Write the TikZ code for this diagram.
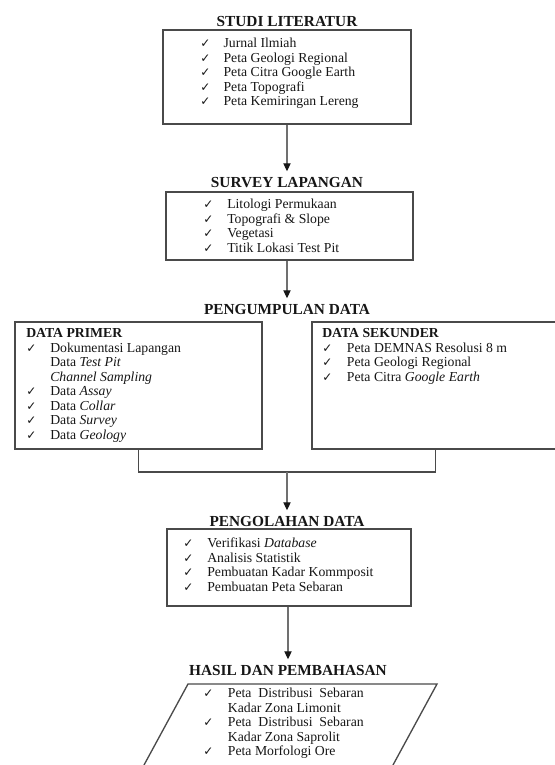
\documentclass[tikz,border=0pt]{standalone}
\usepackage{fontspec}
\setmainfont{Liberation Serif}
\newfontfamily\symfont{DejaVu Sans}
\usetikzlibrary{arrows.meta}
\definecolor{ink}{HTML}{161616}
\definecolor{framegray}{HTML}{4A4A4A}
\definecolor{linegray}{HTML}{707070}
\newcommand{\ck}{{\symfont\fontsize{9}{9}\selectfont ✓}}
\newcommand{\listfont}{\fontsize{10.3}{10.9}\selectfont}
\tikzset{
  flow box/.style={
    draw=framegray,
    line width=1pt,
    inner sep=0pt,
  },
  stage title/.style={
    anchor=base,
    inner sep=2pt,
    text=ink,
    font=\fontsize{11.5}{12}\selectfont\bfseries,
  },
  item list/.style={
    anchor=base west,
    inner sep=0pt,
    text=ink,
    font=\listfont,
  },
  flow/.style={
    draw=linegray,
    line width=0.8pt,
    shorten >=2pt,
    -{Triangle[length=6pt,width=5.5pt,color=ink]},
  },
  joint/.style={
    draw=framegray,
    line width=1pt,
  },
}

\begin{document}
\begin{tikzpicture}[x=0.75pt, y=-0.75pt]
  \useasboundingbox (0,0) rectangle (555,765);
  \clip (0,0) rectangle (555,765);

  % --- Studi Literatur ---
  \node[stage title] (t1) at (287,26) {STUDI LITERATUR};
  \node[flow box, minimum width=186pt, minimum height=70.5pt] (b1) at (287,77) {};
  \node[item list] (l1) at (200,47.5) {\begin{tabular}[t]{@{}p{17.5pt}@{}l@{}}
    \ck & Jurnal Ilmiah\\
    \ck & Peta Geologi Regional\\
    \ck & Peta Citra Google Earth\\
    \ck & Peta Topografi\\
    \ck & Peta Kemiringan Lereng
  \end{tabular}};

  % --- Survey Lapangan ---
  \node[stage title] (t2) at (287,187) {SURVEY LAPANGAN};
  \node[flow box, minimum width=185.25pt, minimum height=51pt] (b2) at (289.5,226) {};
  \node[item list] (l2) at (203,208.5) {\begin{tabular}[t]{@{}p{18pt}@{}l@{}}
    \ck & Litologi Permukaan\\
    \ck & Topografi \& Slope\\
    \ck & Vegetasi\\
    \ck & Titik Lokasi Test Pit
  \end{tabular}};

  % --- Pengumpulan Data ---
  \node[stage title] (t3) at (287,314) {PENGUMPULAN DATA};
  \node[flow box, minimum width=185.25pt, minimum height=95.25pt] (b3) at (138.5,385.5) {};
  \node[flow box, minimum width=185.25pt, minimum height=95.25pt] (b4) at (435.5,385.5) {};
  \node[item list] (l3) at (26,337.5) {\begin{tabular}[t]{@{}p{18pt}@{}l@{}}
    \multicolumn{2}{@{}l@{}}{\bfseries DATA PRIMER}\\
    \ck & Dokumentasi Lapangan\\
        & Data \textit{Test Pit}\\
        & \textit{Channel Sampling}\\
    \ck & Data \textit{Assay}\\
    \ck & Data \textit{Collar}\\
    \ck & Data \textit{Survey}\\
    \ck & Data \textit{Geology}
  \end{tabular}};
  \node[item list] (l4) at (322,337.5) {\begin{tabular}[t]{@{}p{18.5pt}@{}l@{}}
    \multicolumn{2}{@{}l@{}}{\bfseries DATA SEKUNDER}\\
    \ck & Peta DEMNAS Resolusi 8 m\\
    \ck & Peta Geologi Regional\\
    \ck & Peta Citra \textit{Google Earth}
  \end{tabular}};
  \coordinate (join) at (287,472);

  % --- Pengolahan Data ---
  \node[stage title] (t4) at (287,526) {PENGOLAHAN DATA};
  \node[flow box, minimum width=183pt, minimum height=57.75pt] (b5) at (289,567.5) {};
  \node[item list] (l5) at (183,547.5) {\begin{tabular}[t]{@{}p{18pt}@{}l@{}}
    \ck & Verifikasi \textit{Database}\\
    \ck & Analisis Statistik\\
    \ck & Pembuatan Kadar Kommposit\\
    \ck & Pembuatan Peta Sebaran
  \end{tabular}};

  % --- Hasil dan Pembahasan ---
  \node[stage title] (t5) at (288,675) {HASIL DAN PEMBAHASAN};
  \coordinate (p1) at (188,684);
  \coordinate (p2) at (437,684);
  \coordinate (p3) at (374,800);
  \coordinate (p4) at (125,800);
  \draw[flow box] (p1) -- (p2) -- (p3) -- (p4) -- cycle;
  \node[item list] (l6) at (203,697.5) {\begin{tabular}[t]{@{}p{18.5pt}@{}l@{}}
    \ck & Peta\ \ Distribusi\ \ Sebaran\\
        & Kadar Zona Limonit\\
    \ck & Peta\ \ Distribusi\ \ Sebaran\\
        & Kadar Zona Saprolit\\
    \ck & Peta Morfologi Ore
  \end{tabular}};

  % --- Connections ---
  \draw[flow] (b1.south) -- (t2.north);
  \draw[flow] (b2.south -| t3.north) -- (t3.north);
  \draw[joint] (b3.south) |- (join) -| (b4.south);
  \draw[flow] (join) -- (t4.north);
  \draw[flow] (b5.south -| t5.north) -- (t5.north);

\end{tikzpicture}
\end{document}
